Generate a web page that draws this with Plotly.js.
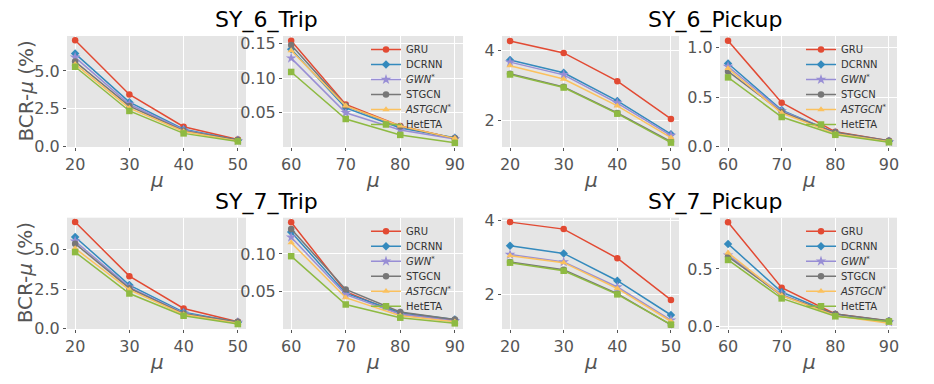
<!DOCTYPE html>
<html>
<head>
<meta charset="utf-8">
<script src="https://cdn.plot.ly/plotly-3.0.1.min.js"></script>
<style>
  html, body { margin: 0; padding: 0; background: #fff; }
  #chart { width: 934px; height: 384px; }
</style>
</head>
<body>
<div id="chart"></div>
<script>
const W = 934, H = 384;
const FONT = 'DejaVu Sans, sans-serif';

const muLow = [20, 30, 40, 50];
const muHigh = [60, 70, 80, 90];
const models = ['GRU', 'DCRNN', '<i>GWN</i><sup>*</sup>', 'STGCN', '<i>ASTGCN</i><sup>*</sup>', 'HetETA'];
const colors = ['#E24A33', '#348ABD', '#988ED5', '#777777', '#FBC15E', '#8EBA42'];
const symbols = ['circle', 'diamond', 'star', 'circle', 'triangle-up', 'square'];
const titles = ['SY_6_Trip', 'SY_6_Pickup', 'SY_7_Trip', 'SY_7_Pickup'];

// one row per model, same order as models
const sy6TripLow = [
	[7.03, 3.45, 1.32, 0.47],
	[6.15, 2.94, 1.15, 0.43],
	[5.90, 2.80, 1.10, 0.40],
	[5.62, 2.68, 1.05, 0.45],
	[5.45, 2.55, 1.00, 0.38],
	[5.28, 2.36, 0.88, 0.35],
];
const sy6TripHigh = [
	[0.154, 0.062, 0.031, 0.013],
	[0.142, 0.057, 0.028, 0.014],
	[0.129, 0.050, 0.025, 0.012],
	[0.148, 0.060, 0.030, 0.013],
	[0.140, 0.060, 0.031, 0.013],
	[0.109, 0.041, 0.018, 0.0065],
];
const sy6PickupLow = [
	[4.26, 3.92, 3.12, 2.05],
	[3.72, 3.36, 2.56, 1.62],
	[3.66, 3.30, 2.50, 1.58],
	[3.33, 2.96, 2.22, 1.41],
	[3.56, 3.18, 2.42, 1.52],
	[3.31, 2.94, 2.20, 1.38],
];
const sy6PickupHigh = [
	[1.07, 0.445, 0.15, 0.06],
	[0.84, 0.37, 0.14, 0.055],
	[0.81, 0.36, 0.14, 0.05],
	[0.76, 0.35, 0.145, 0.06],
	[0.79, 0.34, 0.13, 0.05],
	[0.70, 0.30, 0.12, 0.045],
];
const sy7TripLow = [
	[6.71, 3.31, 1.28, 0.45],
	[5.77, 2.75, 1.05, 0.42],
	[5.50, 2.62, 0.98, 0.40],
	[5.35, 2.55, 0.95, 0.44],
	[5.05, 2.45, 0.90, 0.35],
	[4.82, 2.22, 0.82, 0.30],
];
const sy7TripHigh = [
	[0.142, 0.050, 0.020, 0.012],
	[0.129, 0.048, 0.022, 0.013],
	[0.122, 0.046, 0.020, 0.011],
	[0.133, 0.053, 0.023, 0.013],
	[0.115, 0.042, 0.018, 0.010],
	[0.097, 0.033, 0.0155, 0.008],
];
const sy7PickupLow = [
	[3.96, 3.77, 2.98, 1.85],
	[3.32, 3.11, 2.37, 1.44],
	[3.08, 2.88, 2.20, 1.30],
	[2.88, 2.67, 2.02, 1.17],
	[3.05, 2.86, 2.16, 1.27],
	[2.86, 2.64, 2.00, 1.18],
];
const sy7PickupHigh = [
	[0.905, 0.338, 0.11, 0.05],
	[0.717, 0.30, 0.105, 0.048],
	[0.62, 0.28, 0.10, 0.04],
	[0.607, 0.27, 0.11, 0.052],
	[0.64, 0.27, 0.095, 0.03],
	[0.578, 0.245, 0.09, 0.045],
];

// panel boxes in pixels
const rowTop = [36, 217.7];
const rowBottom = [147, 329];
const colLeft = [67, 283, 502, 720];
const colRight = [246, 463, 679, 897];

const panels = [
	{ data: sy6TripLow, mu: muLow, row: 0, col: 0, yr: [-0.02, 7.31], dtick: 2.5, fmt: '.1f' },
	{ data: sy6TripHigh, mu: muHigh, row: 0, col: 1, yr: [0.0005, 0.161], dtick: 0.05, fmt: '.2f', legend: 'legend' },
	{ data: sy6PickupLow, mu: muLow, row: 0, col: 2, yr: [1.256, 4.4], dtick: 2, fmt: 'd' },
	{ data: sy6PickupHigh, mu: muHigh, row: 0, col: 3, yr: [-0.003, 1.118], dtick: 0.5, fmt: '.1f', legend: 'legend2' },
	{ data: sy7TripLow, mu: muLow, row: 1, col: 0, yr: [-0.01, 6.98], dtick: 2.5, fmt: '.1f' },
	{ data: sy7TripHigh, mu: muHigh, row: 1, col: 1, yr: [0.0005, 0.148], dtick: 0.05, fmt: '.2f', legend: 'legend3' },
	{ data: sy7PickupLow, mu: muLow, row: 1, col: 2, yr: [1.06, 4.08], dtick: 2, fmt: 'd' },
	{ data: sy7PickupHigh, mu: muHigh, row: 1, col: 3, yr: [-0.02, 0.944], dtick: 0.5, fmt: '.1f', legend: 'legend4' },
];

const px = (x) => x / W;
const py = (y) => 1 - y / H;

const traces = [];
const layout = {
	width: W,
	height: H,
	margin: { l: 0, r: 0, t: 0, b: 0 },
	paper_bgcolor: '#ffffff',
	plot_bgcolor: '#E5E5E5',
	font: { family: FONT, color: '#555555' },
	annotations: [],
};

panels.forEach((p, i) => {
	const n = i + 1;
	const xa = n === 1 ? 'x' : 'x' + n;
	const ya = n === 1 ? 'y' : 'y' + n;

	p.data.forEach((vals, m) => {
		traces.push({
			x: p.mu,
			y: vals,
			xaxis: xa,
			yaxis: ya,
			name: models[m],
			mode: 'lines+markers',
			line: { color: colors[m], width: 1.5 },
			marker: { color: colors[m], symbol: symbols[m], size: m === 2 ? 8 : 6.5 },
			showlegend: !!p.legend,
			legend: p.legend || 'legend',
		});
	});

	layout['xaxis' + (n === 1 ? '' : n)] = {
		domain: [px(colLeft[p.col]), px(colRight[p.col])],
		anchor: ya,
		range: [p.mu[0] - 1.5, p.mu[3] + 1.5],
		tickvals: p.mu,
		ticks: 'outside',
		ticklen: 3,
		tickcolor: '#555555',
		tickfont: { size: 16, color: '#555555' },
		showgrid: true,
		gridcolor: '#ffffff',
		gridwidth: 1,
		zeroline: false,
		showline: false,
	};
	layout['yaxis' + (n === 1 ? '' : n)] = {
		domain: [py(rowBottom[p.row]), py(rowTop[p.row])],
		anchor: xa,
		range: p.yr,
		tick0: 0,
		dtick: p.dtick,
		tickformat: p.fmt,
		ticks: 'outside',
		ticklen: 3,
		tickcolor: '#555555',
		tickfont: { size: 16, color: '#555555' },
		showgrid: true,
		gridcolor: '#ffffff',
		gridwidth: 1,
		zeroline: false,
		showline: false,
	};

	// x axis label under each panel
	layout.annotations.push({
		text: '<i>μ</i>',
		xref: 'paper', yref: 'paper',
		x: px((colLeft[p.col] + colRight[p.col]) / 2),
		y: py(rowBottom[p.row] + 33),
		xanchor: 'center', yanchor: 'middle',
		showarrow: false,
		font: { size: 20, color: '#555555' },
	});

	if (p.legend) {
		layout[p.legend] = {
			x: px(p.col === 1 ? 366 : 801),
			xanchor: 'left',
			y: py(rowTop[p.row] - 1),
			yanchor: 'top',
			bgcolor: 'rgba(0,0,0,0)',
			borderwidth: 0,
			font: { size: 10, color: '#333333', family: FONT },
		};
	}
});

// dataset titles
const titleX = [266, 715];
const titleY = [20, 202];
titles.forEach((t, i) => {
	layout.annotations.push({
		text: t,
		xref: 'paper', yref: 'paper',
		x: px(titleX[i % 2]),
		y: py(titleY[Math.floor(i / 2)]),
		xanchor: 'center', yanchor: 'middle',
		showarrow: false,
		font: { size: 22, color: '#000000' },
	});
});

// y axis label for each row
[0, 1].forEach((r) => {
	layout.annotations.push({
		text: 'BCR-<i>μ</i> (%)',
		xref: 'paper', yref: 'paper',
		x: px(25),
		y: py((rowTop[r] + rowBottom[r]) / 2),
		xanchor: 'center', yanchor: 'middle',
		textangle: -90,
		showarrow: false,
		font: { size: 20, color: '#555555' },
	});
});

// tighten legend rows to the reference's 15px spacing
function tightenLegends() {
	const gd = document.getElementById('chart');
	const groups = new Map();
	gd.querySelectorAll('g.traces').forEach((item) => {
		const parent = item.parentNode;
		if (!groups.has(parent)) groups.set(parent, []);
		groups.get(parent).push(item);
	});
	groups.forEach((items) => {
		let y0 = null;
		items.forEach((item, k) => {
			const m = /translate\(\s*([-\d.e]+)[\s,]+([-\d.e]+)\s*\)/.exec(item.getAttribute('transform') || '');
			if (!m) return;
			if (y0 === null) y0 = parseFloat(m[2]);
			item.setAttribute('transform', 'translate(' + m[1] + ',' + (y0 + k * 15) + ')');
		});
	});
}

Plotly.newPlot('chart', traces, layout, { staticPlot: true }).then((gd) => {
	gd.on('plotly_afterplot', tightenLegends);
	tightenLegends();
	setTimeout(tightenLegends, 50);
	setTimeout(tightenLegends, 300);
});
</script>
</body>
</html>
